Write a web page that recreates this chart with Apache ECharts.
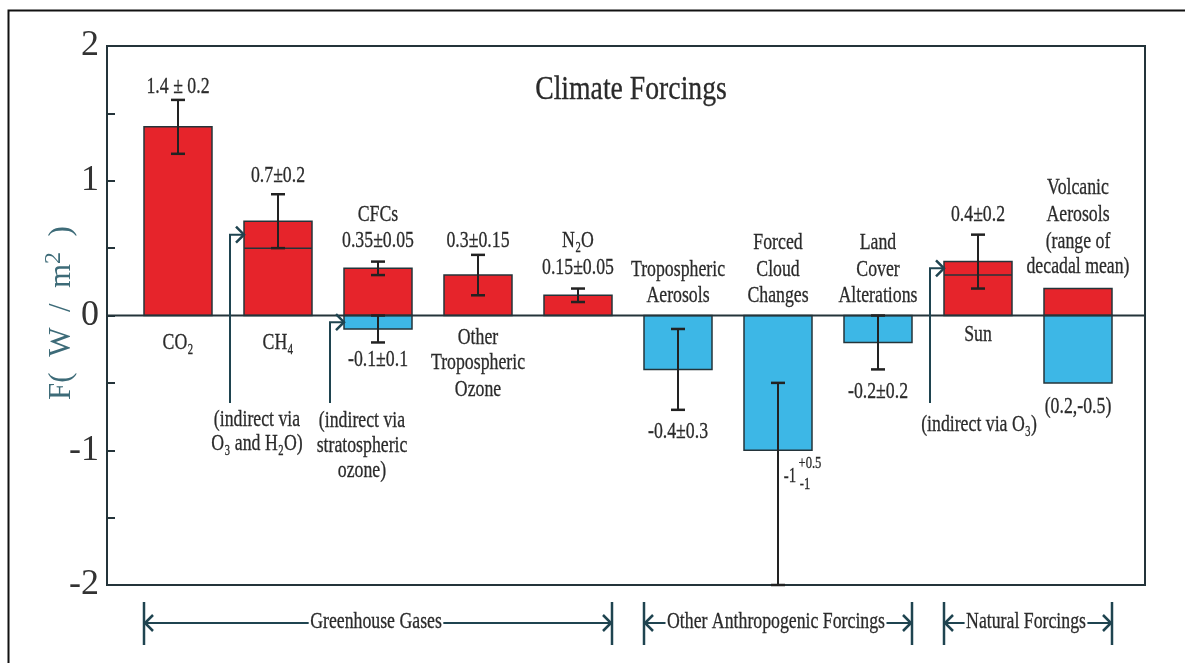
<!DOCTYPE html>
<html><head><meta charset="utf-8">
<script src="https://cdn.jsdelivr.net/npm/echarts@6/dist/echarts.min.js"></script>
<style>html,body{margin:0;padding:0;background:#fff}#c{width:1185px;height:663px}</style>
</head><body><div id="c"></div>
<script>
// ---------------- data ----------------
const categories = ['CO₂', 'CH₄', 'CFCs', 'Other Tropospheric Ozone', 'N₂O',
  'Tropospheric Aerosols', 'Forced Cloud Changes', 'Land Cover Alterations', 'Sun', 'Volcanic Aerosols'];
const positiveForcing = [1.4, 0.7, 0.35, 0.3, 0.15, 0, 0, 0, 0.4, 0.2];
const negativeForcing = [0, 0, -0.1, 0, 0, -0.4, -1.0, -0.2, 0, -0.5];
const directPart = [null, 0.5, null, null, null, null, null, null, 0.3, null];
const errorCategory = [0, 1, 2, 2, 3, 4, 5, 6, 7, 8];
const errorLow  = [1.2, 0.5, 0.3, -0.2, 0.15, 0.1, -0.7, -2.0, -0.4, 0.2];
const errorHigh = [1.6, 0.9, 0.4, 0.0, 0.45, 0.2, -0.1, -0.5, 0.0, 0.6];
const indirectCategory = [1, 2, 8];
const indirectTarget = [0.6, -0.05, 0.35];
const yTicks = [-2, -1, 0, 1, 2];
const groups = ['Greenhouse Gases', 'Other Anthropogenic Forcings', 'Natural Forcings'];
const groupFirst = [0, 5, 8];
const groupLast = [4, 7, 9];

// ---------------- layout / style ----------------
const FONT = '"Liberation Serif", "Times New Roman", serif';
const INK = '#2a2a2a';
const LINE = '#24343a';
const ARROW = '#1f4450';
const RED = '#e6242b';
const BLUE = '#3db7e6';
const TEAL = '#3d6b78';
const HALF = 0.34;
const SX = 0.74;
const FS = 24;
const X0 = -0.71, X1 = 9.67;

// text annotations placed in data units (x: category position, y: W/m2)
const annotations = [
  {t: 'Climate Forcings', x: 4.53, y: 1.673, s: 33, sx: 0.84},
  {t: '1.4 ± 0.2', x: 0, y: 1.70},
  {t: '0.7±0.2', x: 1, y: 1.035},
  {t: 'CFCs', x: 2, y: 0.746},
  {t: '0.35±0.05', x: 2, y: 0.553},
  {t: '0.3±0.15', x: 3, y: 0.553},
  {t: 'N₂O', x: 4, y: 0.553},
  {t: '0.15±0.05', x: 4, y: 0.352},
  {t: 'Tropospheric', x: 5, y: 0.338},
  {t: 'Aerosols', x: 5, y: 0.145},
  {t: 'Forced', x: 6, y: 0.538},
  {t: 'Cloud', x: 6, y: 0.338},
  {t: 'Changes', x: 6, y: 0.145},
  {t: 'Land', x: 7, y: 0.538},
  {t: 'Cover', x: 7, y: 0.338},
  {t: 'Alterations', x: 7, y: 0.145},
  {t: '0.4±0.2', x: 8, y: 0.746},
  {t: 'Volcanic', x: 9, y: 0.946},
  {t: 'Aerosols', x: 9, y: 0.746},
  {t: '(range of', x: 9, y: 0.545},
  {t: 'decadal mean)', x: 9, y: 0.36},
  {t: 'CO₂', x: 0, y: -0.204},
  {t: 'CH₄', x: 1, y: -0.204},
  {t: '-0.1±0.1', x: 2, y: -0.33},
  {t: 'Other', x: 3, y: -0.167},
  {t: 'Tropospheric', x: 3, y: -0.353},
  {t: 'Ozone', x: 3, y: -0.553},
  {t: 'Sun', x: 8, y: -0.145},
  {t: '-0.4±0.3', x: 5, y: -0.865},
  {t: '-0.2±0.2', x: 7, y: -0.568},
  {t: '(0.2,-0.5)', x: 9, y: -0.679},
  {t: '(indirect via O₃)', x: 8.01, y: -0.813},
  {t: '(indirect via', x: 0.79, y: -0.776},
  {t: 'O₃ and H₂O)', x: 0.79, y: -0.954},
  {t: '(indirect via', x: 1.84, y: -0.783},
  {t: 'stratospheric', x: 1.84, y: -0.968},
  {t: 'ozone)', x: 1.84, y: -1.154},
  {t: '-1', x: 6.12, y: -1.2, s: 20},
  {t: '+0.5', x: 6.32, y: -1.095, s: 17},
  {t: '-1', x: 6.27, y: -1.258, s: 17}
];
const ARROW_BASE = -0.65;   // bottom of the "indirect" leader lines
const BRACKET_Y = -2.282;   // group bracket row

const chart = echarts.init(document.getElementById('c'), null, {renderer: 'canvas'});

function seg(a, b, color, w) {
  return {type: 'line', shape: {x1: a[0], y1: a[1], x2: b[0], y2: b[1]}, style: {stroke: color, lineWidth: w}};
}
function poly(pts, color, w) {
  return {type: 'polyline', shape: {points: pts}, style: {stroke: color, lineWidth: w, fill: null}};
}

const option = {
  animation: false,
  backgroundColor: '#fff',
  graphic: [
    {type: 'rect', left: 6, top: 8, shape: {width: 1200, height: 700},
      style: {fill: 'none', stroke: '#111', lineWidth: 2}, silent: true, z: 0},
    {type: 'text', x: 62, y: 313, rotation: Math.PI / 2, silent: true, z: 10,
      style: {text: 'F(  W  /  m{s|2}  )', fontSize: 31, fontFamily: FONT, fill: TEAL,
        align: 'center', verticalAlign: 'middle',
        rich: {s: {fontSize: 24, fontFamily: FONT, fill: TEAL, padding: [0, 0, 16, 0]}}}}
  ],
  grid: {left: 107, right: 40, top: 46, bottom: 78, show: true, borderColor: LINE, borderWidth: 2},
  xAxis: {type: 'value', min: X0, max: X1, show: false},
  yAxis: {
    type: 'value', min: -2, max: 2, interval: 0.5,
    axisLine: {show: true, onZero: false, lineStyle: {color: LINE, width: 2}},
    axisTick: {show: true, inside: true, length: 8, lineStyle: {color: LINE, width: 2}},
    splitLine: {show: false},
    axisLabel: {formatter: v => yTicks.includes(v) ? String(v) : '', fontSize: 36,
      fontFamily: FONT, color: '#333', margin: 8}
  },
  series: [
    { // bars
      type: 'custom', z: 2, silent: true,
      data: categories.map((c, i) => [i, positiveForcing[i], negativeForcing[i]]),
      renderItem: (params, api) => {
        const i = params.dataIndex;
        const children = [];
        const l = api.coord([i - HALF, 0])[0], r = api.coord([i + HALF, 0])[0];
        const y0 = api.coord([i, 0])[1];
        if (positiveForcing[i] > 0) {
          const yt = api.coord([i, positiveForcing[i]])[1];
          children.push({type: 'rect', shape: {x: l, y: yt, width: r - l, height: y0 - yt},
            style: {fill: RED, stroke: LINE, lineWidth: 1.5}});
        }
        if (negativeForcing[i] < 0) {
          const yb = api.coord([i, negativeForcing[i]])[1];
          children.push({type: 'rect', shape: {x: l, y: y0, width: r - l, height: yb - y0},
            style: {fill: BLUE, stroke: LINE, lineWidth: 1.5}});
        }
        if (directPart[i] != null) {
          const yd = api.coord([i, directPart[i]])[1];
          children.push(seg([l, yd], [r, yd], LINE, 1.5));
        }
        return {type: 'group', children};
      }
    },
    { // zero line
      type: 'custom', z: 3, silent: true, data: [[0, 0]],
      renderItem: (params, api) => seg(api.coord([X0, 0]), api.coord([X1, 0]), LINE, 2)
    },
    { // error bars
      type: 'custom', z: 4, silent: true,
      data: errorCategory.map((c, k) => [c, errorLow[k], errorHigh[k]]),
      renderItem: (params, api) => {
        const c = api.value(0);
        const lo = api.coord([c, api.value(1)]), hi = api.coord([c, api.value(2)]);
        const cap = 7;
        return {type: 'group', children: [
          seg(lo, hi, '#222', 2),
          seg([lo[0] - cap, lo[1]], [lo[0] + cap, lo[1]], '#222', 2.5),
          seg([hi[0] - cap, hi[1]], [hi[0] + cap, hi[1]], '#222', 2.5)
        ]};
      }
    },
    { // indirect leader arrows
      type: 'custom', z: 4, silent: true,
      data: indirectCategory.map((c, k) => [c, indirectTarget[k]]),
      renderItem: (params, api) => {
        const c = api.value(0);
        const tip = api.coord([c - HALF, api.value(1)]);
        const xv = tip[0] - 14;
        const base = api.coord([c, ARROW_BASE])[1];
        return {type: 'group', children: [
          poly([[xv, base], [xv, tip[1]], [tip[0], tip[1]]], ARROW, 2),
          poly([[tip[0] - 8, tip[1] - 8], [tip[0], tip[1]], [tip[0] - 8, tip[1] + 8]], ARROW, 2.5)
        ]};
      }
    },
    { // group brackets
      type: 'custom', z: 4, silent: true,
      data: groups.map((g, k) => [groupFirst[k], BRACKET_Y]),
      renderItem: (params, api) => {
        const k = params.dataIndex;
        const L = api.coord([groupFirst[k] - HALF, BRACKET_Y]);
        const R = api.coord([groupLast[k] + HALF, BRACKET_Y]);
        const y = L[1];
        return {type: 'group', children: [
          seg([L[0], y], [R[0], y], ARROW, 2),
          seg([L[0], y - 21], [L[0], y + 22], ARROW, 2.5),
          seg([R[0], y - 21], [R[0], y + 22], ARROW, 2.5),
          poly([[L[0] + 9, y - 8], [L[0] + 1, y], [L[0] + 9, y + 8]], ARROW, 2.5),
          poly([[R[0] - 9, y - 8], [R[0] - 1, y], [R[0] - 9, y + 8]], ARROW, 2.5),
          {type: 'text', x: (L[0] + R[0]) / 2 - 2, y: y - 1, scaleX: SX, z2: 10,
            style: {text: groups[k], fontSize: FS, fontFamily: FONT, fill: INK,
              stroke: INK, lineWidth: 0.3,
              align: 'center', verticalAlign: 'middle', backgroundColor: '#fff', padding: [0, 2]}}
        ]};
      }
    },
    { // text annotations
      type: 'custom', z: 5, silent: true,
      data: annotations.map(a => [a.x, a.y]),
      renderItem: (params, api) => {
        const a = annotations[params.dataIndex];
        const p = api.coord([a.x, a.y]);
        return {type: 'text', x: p[0], y: p[1], scaleX: a.sx || SX,
          style: {text: a.t, fontSize: a.s || FS, fontFamily: FONT, fill: INK,
            stroke: INK, lineWidth: 0.3,
            align: 'center', verticalAlign: 'middle'}};
      }
    }
  ]
};
chart.setOption(option);
</script></body></html>
